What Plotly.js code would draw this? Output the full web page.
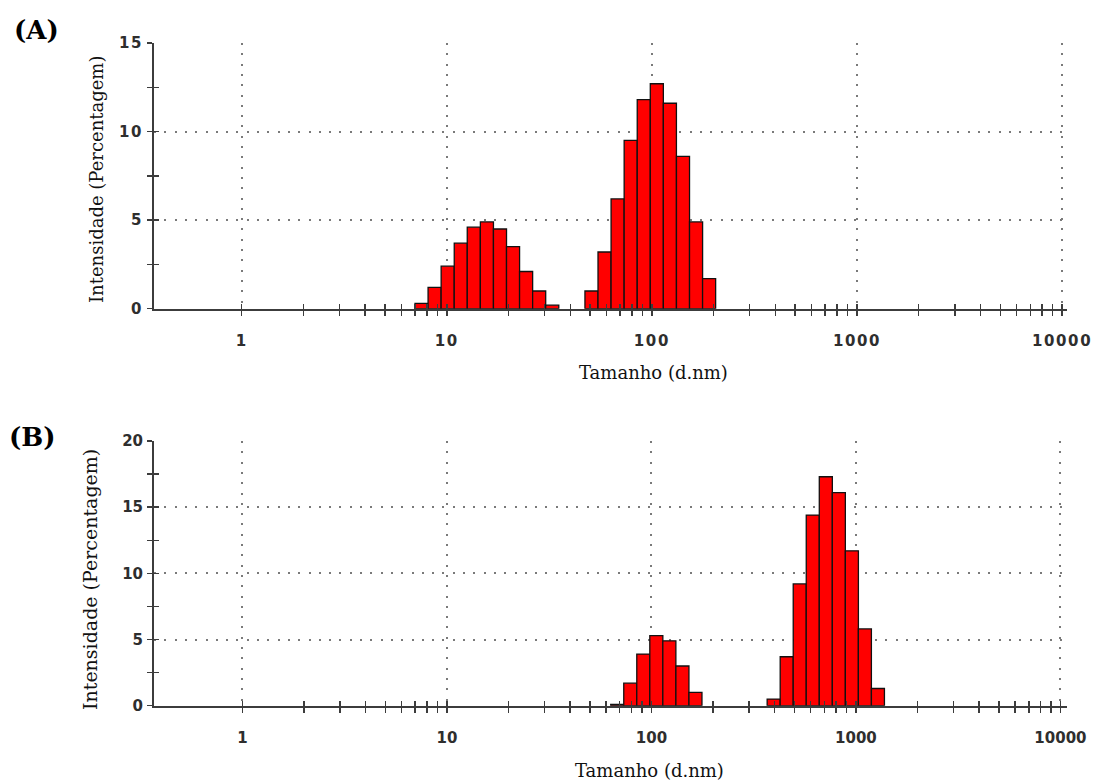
<!DOCTYPE html>
<html>
<head>
<meta charset="utf-8">
<script src="https://cdn.plot.ly/plotly-3.0.1.min.js"></script>
<style>
  html, body { margin: 0; padding: 0; background: #fff; }
  #chart { width: 1097px; height: 782px; }
  .xtick text, .ytick text { letter-spacing: 1.6px; }
</style>
</head>
<body>
<div id="chart"></div>
<script>
// Size classes (d.nm) and intensity (%) for each measurement
const sizesA = [7.531, 8.721, 10.1, 11.7, 13.54, 15.69, 18.17, 21.04, 24.36, 28.21, 32.67,
                50.75, 58.77, 68.06, 78.82, 91.28, 105.7, 122.4, 141.8, 164.2, 190.1];
const intensityA = [0.3, 1.2, 2.4, 3.7, 4.6, 4.9, 4.5, 3.5, 2.1, 1.0, 0.2,
                    1.0, 3.2, 6.2, 9.5, 11.8, 12.7, 11.6, 8.6, 4.9, 1.7];

const sizesB = [68.06, 78.82, 91.28, 105.7, 122.4, 141.8, 164.2,
                396.1, 458.7, 531.2, 615.1, 712.4, 825, 955.4, 1106, 1281];
const intensityB = [0.1, 1.7, 3.9, 5.3, 4.9, 3.0, 1.0,
                    0.5, 3.7, 9.2, 14.4, 17.3, 16.1, 11.7, 5.8, 1.3];

const decadeTicks = [1, 10, 100, 1000, 10000];
const decadeLabels = ['1', '10', '100', '1000', '10000'];
const minorDigits = [2, 3, 4, 5, 6, 7, 8, 9];

const panelLabels = ['(A)', '(B)'];
const xTitle = 'Tamanho (d.nm)';
const yTitle = 'Intensidade (Percentagem)';

// 70 size classes from 0.4 to 10000 nm, equally spaced in log
const binWidth = Math.log10(10000 / 0.4) / 69;

const log10 = v => Math.log10(v);
const minorVals = [];
decadeTicks.slice(0, 4).forEach(d => minorDigits.forEach(k => minorVals.push(log10(k * d))));

const W = 1097, H = 782;
const xDom = [154 / W, 1067 / W];
const yDomA = [1 - 308.7 / H, 1 - 43 / H];
const yDomB = [1 - 705.7 / H, 1 - 441 / H];

const axisColor = '#3c3c3c';
const gridColor = '#7a7a7a';
const tickFont = { family: 'DejaVu Sans', size: 15, weight: 'bold', color: '#2e2e2e' };

function xAxis(range, anchor, extra) {
  return Object.assign({
    domain: xDom, anchor: anchor, range: range, type: 'linear',
    tickmode: 'array', tickvals: decadeTicks.map(log10), ticktext: decadeLabels,
    showgrid: true, gridcolor: gridColor, gridwidth: 2, griddash: '2px,8.3px',
    zeroline: false, showline: true, linecolor: axisColor, linewidth: 2,
    ticks: 'outside', ticklen: 5, tickwidth: 1.5, tickcolor: axisColor,
    ticklabelstandoff: 12, tickfont: tickFont,
    minor: { tickmode: 'array', tickvals: minorVals, ticks: 'outside', ticklen: 5,
             tickwidth: 1.5, tickcolor: axisColor, showgrid: false },
    fixedrange: true
  }, extra || {});
}

function yAxis(domain, range, anchor, extra) {
  return Object.assign({
    domain: domain, anchor: anchor, range: range,
    tickmode: 'linear', tick0: 0, dtick: 5,
    showgrid: true, gridcolor: gridColor, gridwidth: 2, griddash: '2px,8.3px',
    zeroline: false, showline: true, linecolor: axisColor, linewidth: 2,
    ticks: 'outside', ticklen: 5, tickwidth: 1.5, tickcolor: axisColor,
    ticklabelstandoff: 1, tickfont: tickFont,
    minor: { dtick: 2.5, ticks: 'outside', ticklen: 5, tickwidth: 1.5,
             tickcolor: axisColor, showgrid: false },
    fixedrange: true
  }, extra || {});
}

// Companion axes carry the inner half of each tick so the marks cross the axis line
const innerX = {
  showgrid: false, showline: false, showticklabels: false, ticks: 'inside',
  minor: { tickmode: 'array', tickvals: minorVals, ticks: 'inside', ticklen: 5,
           tickwidth: 1.5, tickcolor: axisColor, showgrid: false }
};
const innerY = {
  showgrid: false, showline: false, showticklabels: false, ticks: 'inside',
  minor: { dtick: 2.5, ticks: 'inside', ticklen: 5, tickwidth: 1.5,
           tickcolor: axisColor, showgrid: false }
};

const barStyle = { color: '#ff0000', line: { color: '#111', width: 1.3 } };

const traces = [
  { type: 'bar', x: sizesA.map(log10), y: intensityA, width: binWidth,
    marker: barStyle, xaxis: 'x', yaxis: 'y', showlegend: false, hoverinfo: 'skip' },
  { type: 'bar', x: sizesB.map(log10), y: intensityB, width: binWidth,
    marker: barStyle, xaxis: 'x2', yaxis: 'y2', showlegend: false, hoverinfo: 'skip' },
  { type: 'scatter', x: [], y: [], xaxis: 'x3', yaxis: 'y', showlegend: false },
  { type: 'scatter', x: [], y: [], xaxis: 'x', yaxis: 'y3', showlegend: false },
  { type: 'scatter', x: [], y: [], xaxis: 'x4', yaxis: 'y2', showlegend: false },
  { type: 'scatter', x: [], y: [], xaxis: 'x2', yaxis: 'y4', showlegend: false }
];

const rangeA = [-0.4276, 4.024];
const rangeB = [-0.432, 4.032];

const serif = 'DejaVu Serif';
const annotations = [
  { text: panelLabels[0], x: 36, y: 30, font: { family: serif, size: 26, weight: 'bold', color: '#000' } },
  { text: panelLabels[1], x: 32, y: 437, font: { family: serif, size: 26, weight: 'bold', color: '#000' } },
  { text: xTitle, x: 653, y: 373, font: { family: serif, size: 18, color: '#111' } },
  { text: xTitle, x: 649, y: 770, font: { family: serif, size: 18, color: '#111' } },
  { text: yTitle, x: 97, y: 180, textangle: -90, font: { family: serif, size: 18, color: '#111' } },
  { text: yTitle, x: 90, y: 580, textangle: -90, font: { family: serif, size: 19, color: '#111' } }
].map(a => Object.assign({
  xref: 'paper', yref: 'paper', showarrow: false, xanchor: 'center', yanchor: 'middle'
}, a, { x: a.x / W, y: 1 - a.y / H }));

const layout = {
  width: W, height: H,
  margin: { l: 0, r: 0, t: 0, b: 0 },
  paper_bgcolor: '#fff', plot_bgcolor: '#fff',
  bargap: 0, showlegend: false,
  xaxis: xAxis(rangeA, 'y'),
  yaxis: yAxis(yDomA, [0, 15], 'x'),
  xaxis2: xAxis(rangeB, 'y2'),
  yaxis2: yAxis(yDomB, [0, 20], 'x2'),
  xaxis3: xAxis(rangeA, 'y', Object.assign({ overlaying: 'x' }, innerX)),
  yaxis3: yAxis(yDomA, [0, 15], 'x', Object.assign({ overlaying: 'y' }, innerY)),
  xaxis4: xAxis(rangeB, 'y2', Object.assign({ overlaying: 'x2' }, innerX)),
  yaxis4: yAxis(yDomB, [0, 20], 'x2', Object.assign({ overlaying: 'y2' }, innerY)),
  annotations: annotations
};

Plotly.newPlot('chart', traces, layout, { displayModeBar: false, staticPlot: true });
</script>
</body>
</html>
